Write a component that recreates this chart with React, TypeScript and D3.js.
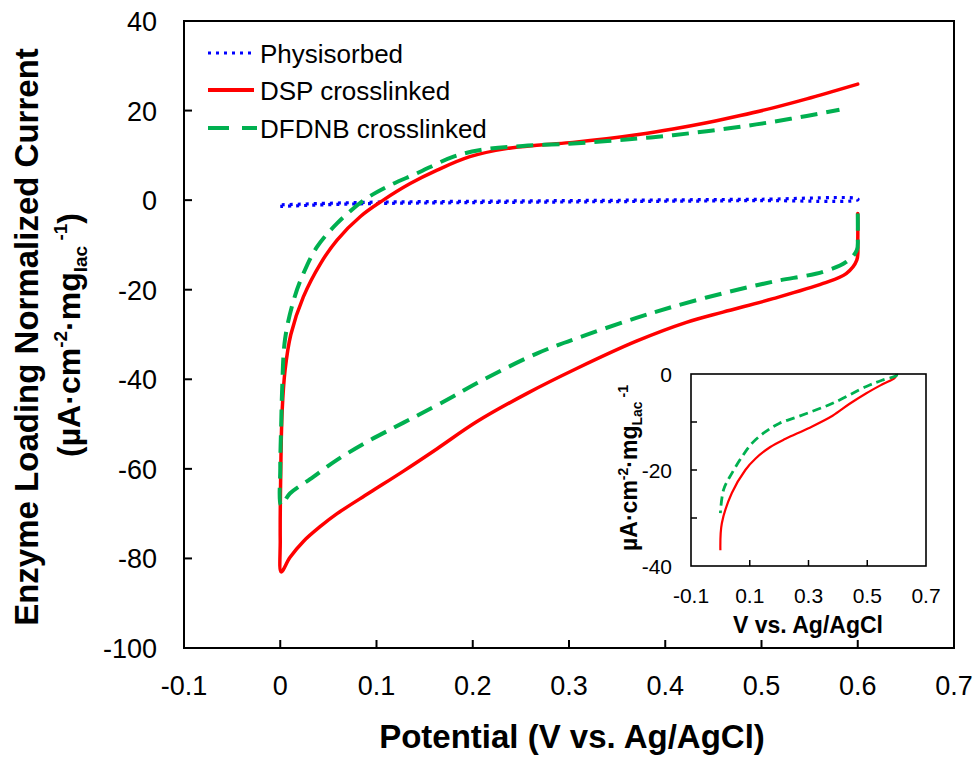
import React from "react";
import * as d3 from "d3";

// ---------- data ----------
const xTicks = [-0.1, 0, 0.1, 0.2, 0.3, 0.4, 0.5, 0.6, 0.7];
const xTickLabels = ["-0.1", "0", "0.1", "0.2", "0.3", "0.4", "0.5", "0.6", "0.7"];
const yTicks = [40, 20, 0, -20, -40, -60, -80, -100];
const yTickLabels = ["40", "20", "0", "-20", "-40", "-60", "-80", "-100"];

const seriesNames = ["Physisorbed", "DSP crosslinked", "DFDNB crosslinked"];

const physV = [0, 0.05, 0.1, 0.2, 0.3, 0.4, 0.5, 0.6, 0.6, 0.5, 0.4, 0.3, 0.2, 0.1, 0.05, 0];
const physI = [-1.4, -1.0, -0.75, -0.55, -0.4, -0.25, -0.1, 0.05, 0.3, 0.2, 0.05, -0.1, -0.25, -0.45, -0.7, -1.05];

const dspV = [0.6, 0.6, 0.599, 0.588, 0.564, 0.512, 0.46, 0.422, 0.37, 0.308, 0.256, 0.204, 0.163, 0.128, 0.093, 0.059, 0.042, 0.024, 0.01, 0.001,
  0, 0.0005, 0.002, 0.005, 0.011, 0.024, 0.042, 0.059, 0.083, 0.107, 0.135, 0.163, 0.197, 0.235, 0.27, 0.304, 0.339, 0.374, 0.408, 0.443, 0.478, 0.512, 0.547, 0.6];
const dspI = [-3, -9, -13.4, -16.4, -18.6, -22, -25, -27.3, -31.5, -37.6, -43.2, -49.5, -55.5, -60.5, -65.3, -70, -72.8, -76.2, -79.8, -83,
  -76, -61, -47, -38, -30, -21.6, -14.1, -8.9, -3.7, 0, 3.7, 6.7, 9.7, 11.5, 12.3, 12.9, 13.7, 14.7, 15.9, 17.3, 18.9, 20.6, 22.6, 25.9];

const dfdnbV = [0.6, 0.6, 0.599, 0.588, 0.564, 0.512, 0.46, 0.408, 0.37, 0.318, 0.267, 0.204, 0.18, 0.145, 0.118, 0.09, 0.059, 0.031, 0.01, 0.001,
  0, 0.001, 0.002, 0.005, 0.014, 0.024, 0.038, 0.059, 0.087, 0.111, 0.142, 0.18, 0.208, 0.252, 0.3, 0.34, 0.374, 0.408, 0.443, 0.478, 0.512, 0.547, 0.581];
const dfdnbI = [-3, -8, -11.2, -13.8, -16, -18.2, -20.8, -23.8, -26.3, -30.1, -34.2, -40.9, -43.8, -47.8, -50.8, -54, -58, -62.3, -65.5, -68.1,
  -60, -50, -42, -31, -22.3, -16.4, -10.5, -5.2, 0, 3, 6, 9.7, 11.2, 12.1, 12.6, 13.2, 13.8, 14.5, 15.4, 16.4, 17.5, 18.8, 20.2];

// inset
const insetXTicks = [0.1, 0.3, 0.5];
const insetXLabelVals = [-0.1, 0.1, 0.3, 0.5, 0.7];
const insetXLabels = ["-0.1", "0.1", "0.3", "0.5", "0.7"];
const insetYTicks = [-10, -20, -30];
const insetYLabelVals = [0, -20, -40];
const insetYLabels = ["0", "-20", "-40"];

const insetDspV = [0.6, 0.594, 0.55, 0.497, 0.44, 0.382, 0.3, 0.222, 0.17, 0.12, 0.085, 0.039, 0.005, 0];
const insetDspI = [0, -0.8, -2.2, -4, -6.2, -8.7, -11.3, -13.5, -15.2, -17.6, -20, -24.8, -31.1, -36.7];
const insetDfV = [0.6, 0.6, 0.55, 0.497, 0.382, 0.268, 0.2, 0.154, 0.108, 0.074, 0.039, 0.011, 0];
const insetDfI = [0, -0.3, -1.3, -2.6, -6.1, -8.8, -10.3, -12, -14.4, -17.2, -20.7, -24.1, -29];

// ---------- component ----------
const FONT = "'Liberation Sans', Arial, sans-serif";

function zip(v: number[], i: number[]): [number, number][] {
  return v.map((d, k) => [d, i[k]]);
}

export default function App() {
  const W = 979, H = 759;
  const m = { left: 184, right: 954, top: 21, bottom: 648 };
  const x = d3.scaleLinear().domain([-0.1, 0.7]).range([m.left, m.right]);
  const y = d3.scaleLinear().domain([-100, 40]).range([m.bottom, m.top]);
  const line = d3.line<[number, number]>()
    .x(d => x(d[0])).y(d => y(d[1]))
    .curve(d3.curveCatmullRom.alpha(0.5));

  const ins = { left: 691, right: 926, top: 374, bottom: 566 };
  const ix = d3.scaleLinear().domain([-0.1, 0.7]).range([ins.left, ins.right]);
  const iy = d3.scaleLinear().domain([-40, 0]).range([ins.bottom, ins.top]);
  const iline = d3.line<[number, number]>()
    .x(d => ix(d[0])).y(d => iy(d[1]))
    .curve(d3.curveCatmullRom.alpha(0.5));

  const blue = "#0000ff";
  const red = "#ff0000";
  const green = "#00b050";

  const legendY = [53, 90, 128];

  return (
    <svg width={W} height={H} style={{ position: "absolute", left: 0, top: 0, background: "#fff" }} fontFamily={FONT}>
      <rect x={0} y={0} width={W} height={H} fill="#fff" />
      {/* series */}
      <path d={line(zip(physV, physI)) || ""} fill="none" stroke={blue} strokeWidth={3.2} strokeDasharray="3,5" />
      <path d={line(zip(dspV, dspI)) || ""} fill="none" stroke={red} strokeWidth={3.5} strokeLinejoin="round" strokeLinecap="round" />
      <path d={line(zip(dfdnbV, dfdnbI)) || ""} fill="none" stroke={green} strokeWidth={4} strokeDasharray="17,9" />

      {/* frame */}
      <rect x={m.left} y={m.top} width={m.right - m.left} height={m.bottom - m.top} fill="none" stroke="#000" strokeWidth={2} />
      {/* x ticks */}
      {xTicks.map((t, k) => (
        <g key={"xt" + k}>
          <line x1={x(t)} x2={x(t)} y1={m.bottom} y2={m.bottom - 8} stroke="#000" strokeWidth={2} />
          <text x={x(t)} y={695} fontSize={27} textAnchor="middle" fill="#000">{xTickLabels[k]}</text>
        </g>
      ))}
      {yTicks.map((t, k) => (
        <g key={"yt" + k}>
          <line x1={m.left} x2={m.left + 8} y1={y(t)} y2={y(t)} stroke="#000" strokeWidth={2} />
          <text x={157} y={y(t) + 10} fontSize={27} textAnchor="end" fill="#000">{yTickLabels[k]}</text>
        </g>
      ))}

      {/* axis titles */}
      <text x={572} y={748} fontSize={33} fontWeight="bold" textAnchor="middle" fill="#000">Potential (V vs. Ag/AgCl)</text>
      <text transform="translate(38,337) rotate(-90)" fontSize={33} fontWeight="bold" textAnchor="middle" fill="#000">Enzyme Loading Normalized Current</text>
      <text transform="translate(80,335) rotate(-90)" fontSize={32} fontWeight="bold" textAnchor="middle" fill="#000">
        (µA·cm<tspan fontSize={19} dy={-13}>-2</tspan><tspan dy={13}>·mg</tspan><tspan fontSize={19} dy={7}>lac</tspan><tspan fontSize={19} dy={-20}> -1</tspan><tspan dy={13}>)</tspan>
      </text>

      {/* legend */}
      <line x1={208} x2={254} y1={legendY[0]} y2={legendY[0]} stroke={blue} strokeWidth={3.2} strokeDasharray="3,5" />
      <line x1={208} x2={254} y1={legendY[1]} y2={legendY[1]} stroke={red} strokeWidth={4} />
      <line x1={208} x2={257} y1={legendY[2]} y2={legendY[2]} stroke={green} strokeWidth={4} strokeDasharray="21,13" />
      {seriesNames.map((s, k) => (
        <text key={s} x={260} y={legendY[k] + 9.5} fontSize={26} fill="#000">{s}</text>
      ))}

      {/* inset */}
      <rect x={ins.left} y={ins.top} width={ins.right - ins.left} height={ins.bottom - ins.top} fill="#fff" />
      <path d={iline(zip(insetDspV, insetDspI)) || ""} fill="none" stroke={red} strokeWidth={2.2} />
      <path d={iline(zip(insetDfV, insetDfI)) || ""} fill="none" stroke={green} strokeWidth={2.8} strokeDasharray="9,5" />
      <rect x={ins.left} y={ins.top} width={ins.right - ins.left} height={ins.bottom - ins.top} fill="none" stroke="#000" strokeWidth={1.6} />
      {insetXTicks.map(t => (
        <line key={"ixt" + t} x1={ix(t)} x2={ix(t)} y1={ins.bottom} y2={ins.bottom - 6} stroke="#000" strokeWidth={1.5} />
      ))}
      {insetYTicks.map(t => (
        <line key={"iyt" + t} x1={ins.left} x2={ins.left + 6} y1={iy(t)} y2={iy(t)} stroke="#000" strokeWidth={1.5} />
      ))}
      {insetXLabelVals.map((t, k) => (
        <text key={"ixl" + k} x={ix(t)} y={603} fontSize={21} textAnchor="middle" fill="#000">{insetXLabels[k]}</text>
      ))}
      {insetYLabelVals.map((t, k) => (
        <text key={"iyl" + k} x={672} y={iy(t) + 8} fontSize={21} textAnchor="end" fill="#000">{insetYLabels[k]}</text>
      ))}
      <text x={808} y={633} fontSize={23} fontWeight="bold" textAnchor="middle" fill="#000">V vs. Ag/AgCl</text>
      <text transform="translate(637,468) rotate(-90)" fontSize={23} fontWeight="bold" textAnchor="middle" fill="#000">
        µA·cm<tspan fontSize={14} dy={-9}>-2</tspan><tspan dy={9}>·mg</tspan><tspan fontSize={14} dy={5}>Lac</tspan><tspan fontSize={14} dy={-14}> -1</tspan>
      </text>
    </svg>
  );
}
